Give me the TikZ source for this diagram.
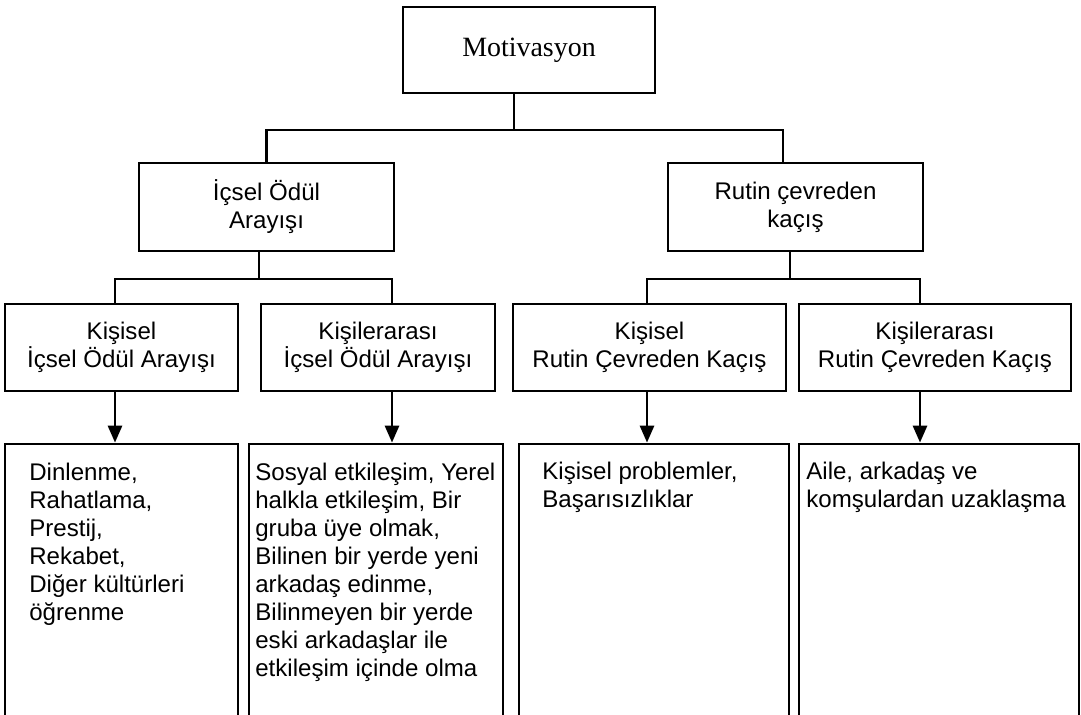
\documentclass[tikz,border=0pt]{standalone}
\usepackage{fontspec}
\setmainfont{Liberation Sans}
\newfontfamily\serifbox{Liberation Serif}
\usetikzlibrary{arrows.meta}

\begin{document}
\begin{tikzpicture}[x=0.02cm,y=-0.02cm,>={Triangle[length=3.4mm,width=2.8mm]},
  box/.style={draw,line width=1.6pt,inner sep=0pt,align=center,
    font=\fontsize{13.7pt}{15.9pt}\selectfont},
  list/.style={inner sep=0pt,anchor=north west,align=left,
    font=\fontsize{13.7pt}{15.9pt}\selectfont},
  link/.style={line width=1.6pt}]
  \useasboundingbox (0,0) rectangle (1081,715);
  % top level
  \node[box,minimum width=5.04cm,minimum height=1.72cm,
    font=\serifbox\fontsize{15.9pt}{18pt}\selectfont] (mot) at (529,50) {Motivasyon};
  % second level
  \node[box,minimum width=5.1cm,minimum height=1.76cm] (ics) at (266.5,207) {İçsel Ödül\\Arayışı};
  \node[box,minimum width=5.1cm,minimum height=1.76cm] (rut) at (795.5,207) {Rutin çevreden\\kaçış};
  % third level
  \node[box,minimum width=4.66cm,minimum height=1.74cm] (k1) at (121.5,347.5) {Kişisel\\İçsel Ödül Arayışı};
  \node[box,minimum width=4.68cm,minimum height=1.74cm] (k2) at (378,347.5) {Kişilerarası\\İçsel Ödül Arayışı};
  \node[box,minimum width=5.46cm,minimum height=1.74cm] (k3) at (649.5,347.5) {Kişisel\\Rutin Çevreden Kaçış};
  \node[box,minimum width=5.44cm,minimum height=1.74cm] (k4) at (935,347.5) {Kişilerarası\\Rutin Çevreden Kaçış};
  % bottom boxes (run off the page)
  \node[box,minimum width=4.66cm,minimum height=5.92cm] (b1) at (121.5,592) {};
  \node[box,minimum width=5.08cm,minimum height=5.92cm] (b2) at (376,592) {};
  \node[box,minimum width=5.4cm,minimum height=5.92cm] (b3) at (654,592) {};
  \node[box,minimum width=5.6cm,minimum height=5.92cm] (b4) at (939,592) {};
  \node[list] (t1) at (29,463) {Dinlenme,\\Rahatlama,\\Prestij,\\Rekabet,\\Diğer kültürleri\\öğrenme};
  \node[list] (t2) at (255,463) {Sosyal etkileşim, Yerel\\halkla etkileşim, Bir\\gruba üye olmak,\\Bilinen bir yerde yeni\\arkadaş edinme,\\Bilinmeyen bir yerde\\eski arkadaşlar ile\\etkileşim içinde olma};
  \node[list] (t3) at (542,462) {Kişisel problemler,\\Başarısızlıklar};
  \node[list] (t4) at (806,462) {Aile, arkadaş ve\\komşulardan uzaklaşma};
  % junctions
  \coordinate (j0) at (514,130);
  \coordinate (j1) at (259,279);
  \coordinate (j2) at (790,279);
  \coordinate (d1) at (115,279);
  \coordinate (d2) at (392,279);
  \coordinate (d3) at (647,279);
  \coordinate (d4) at (920,279);
  \coordinate (d5) at (783,130);
  % connectors
  \draw[link] (j0 |- mot.south) -- (j0);
  \draw[link] (ics.north) |- (j0) -| (d5 |- rut.north);
  \draw[link] (j1 |- ics.south) -- (j1);
  \draw[link] (d1 |- k1.north) |- (j1) -| (d2 |- k2.north);
  \draw[link] (j2 |- rut.south) -- (j2);
  \draw[link] (d3 |- k3.north) |- (j2) -| (d4 |- k4.north);
  % arrows down
  \draw[link,->] (d1 |- k1.south) -- (d1 |- b1.north);
  \draw[link,->] (d2 |- k2.south) -- (d2 |- b2.north);
  \draw[link,->] (d3 |- k3.south) -- (d3 |- b3.north);
  \draw[link,->] (d4 |- k4.south) -- (d4 |- b4.north);
\end{tikzpicture}
\end{document}
